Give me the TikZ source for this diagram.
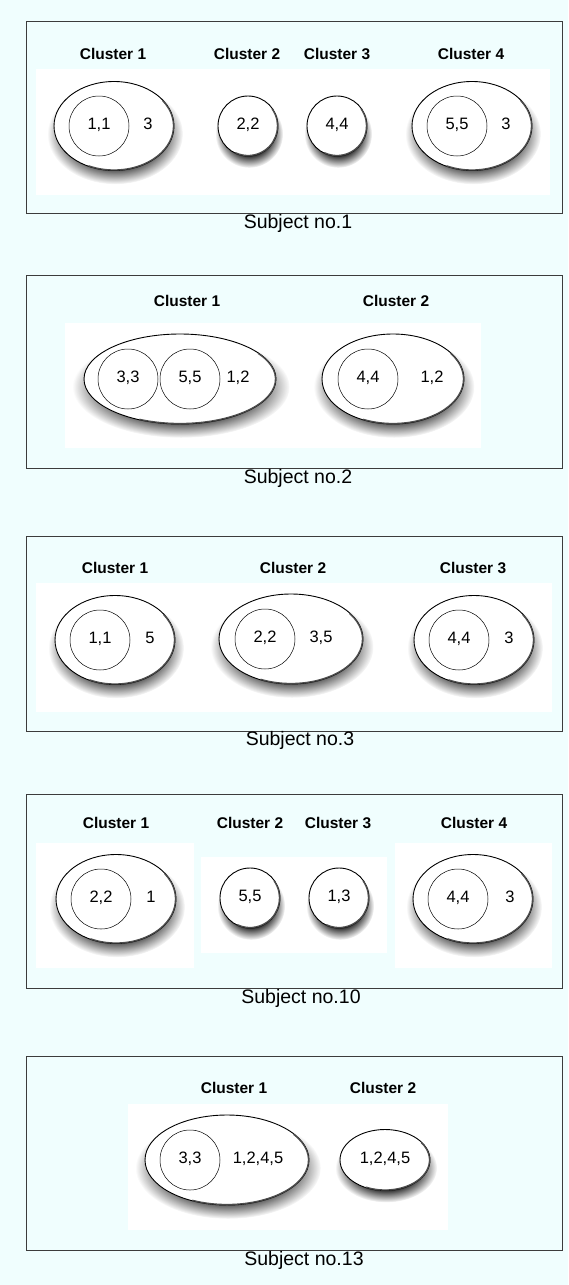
\documentclass[tikz,border=0pt]{standalone}
\usepackage{fontspec}
\setmainfont{Liberation Sans}
\usetikzlibrary{shapes.geometric,shadows,fadings}
\pgfdeclareradialshading{softedgeshade}{\pgfpointorigin}{color(0bp)=(white); color(15bp)=(white); color(25bp)=(black); color(50bp)=(black)}
\pgfdeclarefading{softedge}{\pgfuseshading{softedgeshade}}
\definecolor{bgcol}{RGB}{240,254,254}
\definecolor{framecol}{RGB}{60,60,60}
\tikzset{
  panel/.style={draw=framecol, line width=0.9pt},
  whitebox/.style={fill=white, draw=none},
  clshadow/.style={general shadow={shadow scale=1.13, shadow xshift=1pt, shadow yshift=-7pt, fill=black, path fading=softedge, opacity=0.9}},
  clus/.style={ellipse, draw=black, fill=white, line width=0.9pt, inner sep=0pt, clshadow},
  rim/.style={draw=black!70, line width=1.3pt, line cap=round},
  inner/.style={circle, draw=black, line width=0.5pt, inner sep=0pt, minimum size=60pt},
  lab/.style={font=\bfseries\fontsize{15.5}{18}\selectfont, inner sep=0pt, text height=0.72em, text depth=0pt},
  num/.style={font=\fontsize{16.5}{19}\selectfont, inner sep=0pt, text height=0.72em, text depth=0pt},
  subj/.style={font=\fontsize{19.5}{22}\selectfont, inner sep=0pt, text height=0.72em, text depth=0pt},
}
\begin{document}
\begin{tikzpicture}[x=1pt,y=-1pt]
\useasboundingbox (0,0) rectangle (568,1285);
\fill[bgcol] (0,0) rectangle (568,1285);

% ---------- Subject no.1
\draw[panel] (26,21) rectangle (562,213);
\fill[whitebox] (36,69) rectangle (550,195);
\node[lab] (p1l1) at (113,55.5) {Cluster 1};
\node[lab] (p1l2) at (247,55.5) {Cluster 2};
\node[lab] (p1l3) at (337,55.5) {Cluster 3};
\node[lab] (p1l4) at (471,55.5) {Cluster 4};
\node[clus, minimum width=120pt, minimum height=89pt] (p1c1) at (114,126) {};
\draw[rim] (p1c1) ++(-35:59.5 and 44) arc[start angle=-35, end angle=115, x radius=59.5, y radius=44];
\node[inner] (p1c1a) at (99,126) {};
\node[num] (p1t1a) at (p1c1a) {1,1};
\node[num] (p1t1b) at (148,126) {3};
\node[clus, minimum width=60pt, minimum height=60pt] (p1c2) at (248,126) {};
\draw[rim] (p1c2) ++(-35:29.5 and 29.5) arc[start angle=-35, end angle=115, x radius=29.5, y radius=29.5];
\node[num] (p1t2) at (p1c2) {2,2};
\node[clus, minimum width=60pt, minimum height=60pt] (p1c3) at (337,126) {};
\draw[rim] (p1c3) ++(-35:29.5 and 29.5) arc[start angle=-35, end angle=115, x radius=29.5, y radius=29.5];
\node[num] (p1t3) at (p1c3) {4,4};
\node[clus, minimum width=120pt, minimum height=89pt] (p1c4) at (472,126) {};
\draw[rim] (p1c4) ++(-35:59.5 and 44) arc[start angle=-35, end angle=115, x radius=59.5, y radius=44];
\node[inner] (p1c4a) at (457,126) {};
\node[num] (p1t4a) at (p1c4a) {5,5};
\node[num] (p1t4b) at (506,126) {3};
\node[subj] (s1) at (298,225) {Subject no.1};

% ---------- Subject no.2
\draw[panel] (26,275) rectangle (562,468);
\fill[whitebox] (65,323) rectangle (481,448);
\node[lab] (p2l1) at (187,303) {Cluster 1};
\node[lab] (p2l2) at (396,303) {Cluster 2};
\node[clus, minimum width=192pt, minimum height=90pt] (p2c1) at (180,379) {};
\draw[rim] (p2c1) ++(-35:95.5 and 44.5) arc[start angle=-35, end angle=115, x radius=95.5, y radius=44.5];
\node[inner] (p2c1a) at (128,379) {};
\node[inner] (p2c1b) at (190,379) {};
\node[num] (p2t1a) at (p2c1a) {3,3};
\node[num] (p2t1b) at (p2c1b) {5,5};
\node[num] (p2t1c) at (238,379) {1,2};
\node[clus, minimum width=142pt, minimum height=90pt] (p2c2) at (393,379) {};
\draw[rim] (p2c2) ++(-35:70.5 and 44.5) arc[start angle=-35, end angle=115, x radius=70.5, y radius=44.5];
\node[inner] (p2c2a) at (368,379) {};
\node[num] (p2t2a) at (p2c2a) {4,4};
\node[num] (p2t2b) at (432,379) {1,2};
\node[subj] (s2) at (298,480) {Subject no.2};

% ---------- Subject no.3
\draw[panel] (26,536) rectangle (562,731);
\fill[whitebox] (36,583) rectangle (552,712);
\node[lab] (p3l1) at (115,570) {Cluster 1};
\node[lab] (p3l2) at (293,570) {Cluster 2};
\node[lab] (p3l3) at (473,570) {Cluster 3};
\node[clus, minimum width=120pt, minimum height=89pt] (p3c1) at (115,640) {};
\draw[rim] (p3c1) ++(-35:59.5 and 44) arc[start angle=-35, end angle=115, x radius=59.5, y radius=44];
\node[inner] (p3c1a) at (100,640) {};
\node[num] (p3t1a) at (p3c1a) {1,1};
\node[num] (p3t1b) at (150,640) {5};
\node[clus, minimum width=144pt, minimum height=90pt] (p3c2) at (291,639) {};
\draw[rim] (p3c2) ++(-35:71.5 and 44.5) arc[start angle=-35, end angle=115, x radius=71.5, y radius=44.5];
\node[inner] (p3c2a) at (265,639) {};
\node[num] (p3t2a) at (p3c2a) {2,2};
\node[num] (p3t2b) at (321,639) {3,5};
\node[clus, minimum width=120pt, minimum height=89pt] (p3c3) at (474,640) {};
\draw[rim] (p3c3) ++(-35:59.5 and 44) arc[start angle=-35, end angle=115, x radius=59.5, y radius=44];
\node[inner] (p3c3a) at (459,640) {};
\node[num] (p3t3a) at (p3c3a) {4,4};
\node[num] (p3t3b) at (509,640) {3};
\node[subj] (s3) at (300,742) {Subject no.3};

% ---------- Subject no.10
\draw[panel] (26,794) rectangle (562,988);
\fill[whitebox] (36,843) rectangle (194,968);
\fill[whitebox] (201,857) rectangle (387,953);
\fill[whitebox] (395,843) rectangle (552,968);
\node[lab] (p4l1) at (116,825) {Cluster 1};
\node[lab] (p4l2) at (250,825) {Cluster 2};
\node[lab] (p4l3) at (338,825) {Cluster 3};
\node[lab] (p4l4) at (474,825) {Cluster 4};
\node[clus, minimum width=120pt, minimum height=89pt] (p4c1) at (116,899) {};
\draw[rim] (p4c1) ++(-35:59.5 and 44) arc[start angle=-35, end angle=115, x radius=59.5, y radius=44];
\node[inner] (p4c1a) at (101,899) {};
\node[num] (p4t1a) at (p4c1a) {2,2};
\node[num] (p4t1b) at (151,899) {1};
\node[clus, minimum width=60pt, minimum height=60pt] (p4c2) at (250,898) {};
\draw[rim] (p4c2) ++(-35:29.5 and 29.5) arc[start angle=-35, end angle=115, x radius=29.5, y radius=29.5];
\node[num] (p4t2) at (p4c2) {5,5};
\node[clus, minimum width=60pt, minimum height=60pt] (p4c3) at (339,898) {};
\draw[rim] (p4c3) ++(-35:29.5 and 29.5) arc[start angle=-35, end angle=115, x radius=29.5, y radius=29.5];
\node[num] (p4t3) at (p4c3) {1,3};
\node[clus, minimum width=120pt, minimum height=89pt] (p4c4) at (473,899) {};
\draw[rim] (p4c4) ++(-35:59.5 and 44) arc[start angle=-35, end angle=115, x radius=59.5, y radius=44];
\node[inner] (p4c4a) at (458,899) {};
\node[num] (p4t4a) at (p4c4a) {4,4};
\node[num] (p4t4b) at (510,899) {3};
\node[subj] (s4) at (301,1000) {Subject no.10};

% ---------- Subject no.13
\draw[panel] (26,1056) rectangle (562,1250);
\fill[whitebox] (128,1104) rectangle (448,1230);
\node[lab] (p5l1) at (234,1090) {Cluster 1};
\node[lab] (p5l2) at (383,1090) {Cluster 2};
\node[clus, minimum width=164pt, minimum height=90pt] (p5c1) at (227,1160) {};
\draw[rim] (p5c1) ++(-35:81.5 and 44.5) arc[start angle=-35, end angle=115, x radius=81.5, y radius=44.5];
\node[inner] (p5c1a) at (190,1160) {};
\node[num] (p5t1a) at (p5c1a) {3,3};
\node[num] (p5t1b) at (258,1160) {1,2,4,5};
\node[clus, minimum width=90pt, minimum height=61pt] (p5c2) at (385,1160) {};
\draw[rim] (p5c2) ++(-35:44.5 and 30) arc[start angle=-35, end angle=115, x radius=44.5, y radius=30];
\node[num] (p5t2) at (p5c2) {1,2,4,5};
\node[subj] (s5) at (304,1261.5) {Subject no.13};
\end{tikzpicture}
\end{document}
